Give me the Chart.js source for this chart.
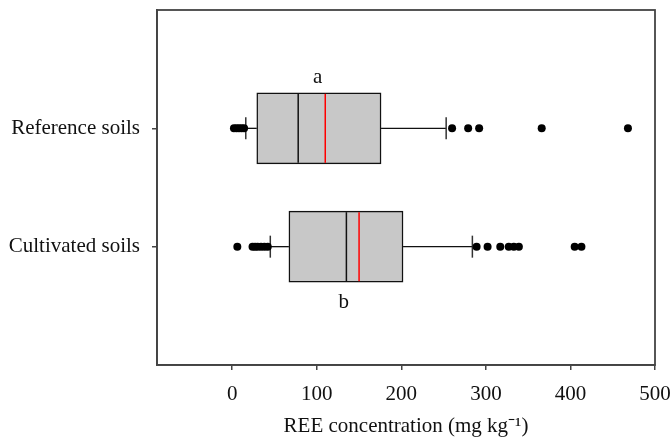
<!DOCTYPE html>
<html>
<head>
<meta charset="utf-8">
<script src="https://cdn.jsdelivr.net/npm/chart.js@4/dist/chart.umd.min.js"></script>
<style>
  body { margin: 0; background: #fff; }
  #wrap { width: 671px; height: 439px; }
</style>
</head>
<body>
<div id="wrap"><canvas id="boxChart"></canvas></div>
<script>
// Kategorier og verdier lest av figuren
const categories = ['Reference soils', 'Cultivated soils'];
const q1 = [29, 67];
const q3 = [176, 202];
const medians = [78, 135];
const means = [110, 150];
const whiskerLow = [16, 45];
const whiskerHigh = [253, 284];
const outliers = [
  [2, 5, 8, 11, 14, 260, 279, 292, 366, 468],
  [6, 24, 27, 30, 34, 38, 42, 289, 302, 317, 327, 333, 339, 405, 413]
];
const letters = ['a', 'b'];
const letterX = [101, 132];
const letterY = [0.57, 2.47];
const xTicks = [0, 100, 200, 300, 400, 500];

const serif = '"Liberation Serif", "Times New Roman", serif';
const frameColor = '#444';
const fontSize = 21;

// Hjelper for punkter på kategori-posisjon (1, 2, ...)
const atCat = (arr) => arr.map((v, i) => ({ x: v, y: i + 1 }));

const datasets = [];

// Bokser (q1 -> q3)
datasets.push({
  type: 'bar',
  indexAxis: 'y',
  data: categories.map((_, i) => ({ x: [q1[i], q3[i]], y: i + 1 })),
  backgroundColor: '#c8c8c8',
  borderColor: '#111',
  borderWidth: 1.5,
  borderSkipped: false,
  barThickness: 71,
  order: 5
});

// Værhår (linjer)
categories.forEach((_, i) => {
  datasets.push({
    type: 'scatter', showLine: true, pointRadius: 0,
    borderColor: '#111', borderWidth: 1.3,
    data: [{ x: whiskerLow[i], y: i + 1 }, { x: q1[i], y: i + 1 }],
    order: 4
  });
  datasets.push({
    type: 'scatter', showLine: true, pointRadius: 0,
    borderColor: '#111', borderWidth: 1.3,
    data: [{ x: q3[i], y: i + 1 }, { x: whiskerHigh[i], y: i + 1 }],
    order: 4
  });
});

// Endestreker på værhårene
datasets.push({
  type: 'scatter',
  data: atCat(whiskerLow).concat(atCat(whiskerHigh)),
  pointStyle: 'line', rotation: 90, pointRadius: 11,
  borderColor: '#333', borderWidth: 1.5,
  order: 3
});

// Median (svart) og gjennomsnitt (rødt)
datasets.push({
  type: 'scatter', data: atCat(medians),
  pointStyle: 'line', rotation: 90, pointRadius: 34.5,
  borderColor: '#111', borderWidth: 1.5, order: 2
});
datasets.push({
  type: 'scatter', data: atCat(means),
  pointStyle: 'line', rotation: 90, pointRadius: 34.5,
  borderColor: '#ff0000', borderWidth: 1.5, order: 2
});

// Uteliggere
datasets.push({
  type: 'scatter',
  data: outliers.flatMap((list, i) => list.map(v => ({ x: v, y: i + 1 }))),
  pointRadius: 4, backgroundColor: '#000', borderColor: '#000', borderWidth: 0,
  order: 1
});

// Ramme rundt plottet og bokstaver
const framePlugin = {
  id: 'frame',
  afterDraw(chart) {
    const { ctx, chartArea: a, scales } = chart;
    ctx.save();
    ctx.strokeStyle = frameColor;
    ctx.lineWidth = 1.8;
    ctx.strokeRect(a.left, a.top, a.right - a.left, a.bottom - a.top);
    ctx.fillStyle = '#111';
    ctx.font = fontSize + 'px ' + serif;
    ctx.textAlign = 'center';
    ctx.textBaseline = 'middle';
    letters.forEach((t, i) => {
      ctx.fillText(t, scales.x.getPixelForValue(letterX[i]), scales.y.getPixelForValue(letterY[i]));
    });
    ctx.restore();
  }
};

new Chart(document.getElementById('boxChart'), {
  type: 'scatter',
  data: { datasets },
  options: {
    responsive: true,
    maintainAspectRatio: false,
    animation: false,
    events: [],
    layout: { autoPadding: false, padding: { top: 10, right: 16, bottom: 0, left: 0 } },
    plugins: { legend: { display: false }, tooltip: { enabled: false } },
    scales: {
      x: {
        type: 'linear', min: -89, max: 500, offset: false,
        afterBuildTicks: (s) => { s.ticks = xTicks.map(v => ({ value: v })); },
        afterFit: (s) => { s.height = 74; s.paddingRight = 0; s.paddingLeft = 0; },
        ticks: { color: '#111', font: { family: serif, size: fontSize }, padding: 12 },
        grid: { drawOnChartArea: false, offset: false, tickLength: 5, color: frameColor, lineWidth: 1.5 },
        border: { display: true, color: frameColor, width: 1.8 },
        title: {
          display: true, text: 'REE concentration (mg kg⁻¹)',
          color: '#111', font: { family: serif, size: fontSize }, padding: { top: 5, bottom: 0 }
        }
      },
      y: {
        type: 'linear', min: 0, max: 3, reverse: true, offset: false,
        afterBuildTicks: (s) => { s.ticks = categories.map((_, i) => ({ value: i + 1 })); },
        afterFit: (s) => { s.width = 157; s.paddingTop = 0; s.paddingBottom = 0; },
        ticks: {
          color: '#111', font: { family: serif, size: fontSize }, padding: 12,
          callback: (v) => categories[v - 1] || ''
        },
        grid: { drawOnChartArea: false, offset: false, tickLength: 5, color: frameColor, lineWidth: 1.5 },
        border: { display: true, color: frameColor, width: 1.8 }
      }
    }
  },
  plugins: [framePlugin]
});
</script>
</body>
</html>
